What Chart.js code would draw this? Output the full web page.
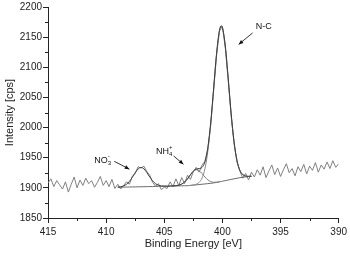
<!DOCTYPE html>
<html>
<head>
<meta charset="utf-8">
<script src="https://cdn.jsdelivr.net/npm/chart.js@4.4.1/dist/chart.umd.min.js"></script>
<style>
  html, body { margin: 0; padding: 0; background: #fff; }
  canvas { display: block; }
</style>
</head>
<body>
<canvas id="xps" width="350" height="257"></canvas>
<script>
// measured spectrum, binding energy [eV] -> intensity [cps]
const rawEnergy = [
  415, 414.75, 414.5, 414.25, 414, 413.75, 413.5, 413.25, 413, 412.75,
  412.5, 412.25, 412, 411.75, 411.5, 411.25, 411, 410.75, 410.5, 410.25,
  410, 409.75, 409.5, 409.25, 409, 408.75, 408.5, 408.25, 408, 407.75,
  407.5, 407.25, 407, 406.75, 406.5, 406.25, 406, 405.75, 405.5, 405.25,
  405, 404.75, 404.5, 404.25, 404, 403.75, 403.5, 403.25, 403, 402.75,
  402.5, 402.25, 402, 401.75, 401.5, 401.25, 401, 400.75, 400.5, 400.25,
  400, 399.75, 399.5, 399.25, 399, 398.75, 398.5, 398.25, 398, 397.75,
  397.5, 397.25, 397, 396.75, 396.5, 396.25, 396, 395.75, 395.5, 395.25,
  395, 394.75, 394.5, 394.25, 394, 393.75, 393.5, 393.25, 393, 392.75,
  392.5, 392.25, 392, 391.75, 391.5, 391.25, 391, 390.75, 390.5, 390.25, 390
];
const rawCounts = [
  1908, 1915, 1902, 1912, 1905, 1898, 1910, 1893, 1906, 1918,
  1900, 1913, 1904, 1916, 1907, 1912, 1901, 1909, 1919, 1904,
  1912, 1902, 1914, 1899, 1906, 1898, 1904, 1910, 1906, 1919,
  1924, 1935, 1933, 1936, 1927, 1921, 1909, 1903, 1907, 1897,
  1901, 1899, 1910, 1902, 1915, 1904, 1917, 1907, 1921, 1914,
  1927, 1934, 1926, 1938, 1944, 1965, 2005, 2062, 2120, 2160,
  2168, 2132, 2078, 2020, 1974, 1943, 1928, 1916, 1924, 1913,
  1926, 1918, 1930, 1921, 1935, 1917, 1928, 1938, 1922, 1933,
  1919, 1930, 1940, 1925, 1932, 1920, 1935, 1927, 1939, 1923,
  1936, 1929, 1942, 1926, 1938, 1931, 1943, 1932, 1945, 1934, 1940
];

// fit: envelope and background
const fitEnergy = [
  409, 408.75, 408.5, 408.25, 408, 407.75, 407.5, 407.25, 407, 406.75,
  406.5, 406.25, 406, 405.75, 405.5, 405.25, 405, 404.75, 404.5, 404.25,
  404, 403.75, 403.5, 403.25, 403, 402.75, 402.5, 402.25, 402, 401.75,
  401.5, 401.25, 401, 400.75, 400.5, 400.25, 400.1, 400, 399.75, 399.5,
  399.25, 399, 398.75, 398.5, 398.25, 398, 397.75, 397.5
];
const envelope = [
  1901.2, 1901.8, 1903.2, 1905.9, 1910.7, 1917.5, 1925.1, 1931.3, 1933.8, 1931.5,
  1925.5, 1918.1, 1911.5, 1906.9, 1904.4, 1903.2, 1902.9, 1902.8, 1903.0, 1903.2,
  1903.6, 1904.4, 1906.3, 1909.7, 1915.0, 1921.8, 1927.7, 1931.1, 1932.0, 1934.0,
  1943.3, 1967.1, 2009.4, 2065.8, 2122.9, 2161.2, 2168.6, 2166.0, 2135.2, 2081.5,
  2023.7, 1976.7, 1945.8, 1929.3, 1922.0, 1919.6, 1919.1, 1919.3
];
const background = [
  1901.0, 1901.1, 1901.2, 1901.3, 1901.4, 1901.5, 1901.6, 1901.7, 1901.8, 1901.9,
  1902.0, 1902.1, 1902.2, 1902.3, 1902.4, 1902.5, 1902.7, 1902.8, 1903.0, 1903.1,
  1903.2, 1903.3, 1903.4, 1903.5, 1903.6, 1904.0, 1904.5, 1905.0, 1905.5, 1906.0,
  1906.5, 1907.0, 1907.5, 1908.2, 1909.0, 1910.0, 1910.6, 1911.0, 1912.0, 1913.0,
  1914.0, 1915.0, 1915.9, 1916.8, 1917.5, 1918.2, 1918.7, 1919.2
];

// component N-C
const ncEnergy = [
  403, 402.75, 402.5, 402.25, 402, 401.75, 401.5, 401.25, 401, 400.75,
  400.5, 400.25, 400.1, 400, 399.75, 399.5, 399.25, 399, 398.75, 398.5,
  398.25, 398, 397.75, 397.5
];
const ncCounts = [
  1903.6, 1904.1, 1904.8, 1906.1, 1909.1, 1916.3, 1931.9, 1960.9, 2006.5, 2064.7,
  2122.5, 2161.2, 2168.6, 2166.0, 2135.2, 2081.5, 2023.7, 1976.7, 1945.8, 1929.3,
  1922.0, 1919.6, 1919.1, 1919.3
];

// component NH4+
const nhEnergy = [
  404.25, 404, 403.75, 403.5, 403.25, 403, 402.75, 402.5, 402.25, 402,
  401.75, 401.5, 401.25, 401, 400.75, 400.5, 400.25
];
const nhCounts = [
  1903.2, 1903.6, 1904.4, 1906.3, 1909.7, 1915.0, 1921.7, 1927.4, 1930.0, 1928.4,
  1923.7, 1917.9, 1913.2, 1910.4, 1909.3, 1909.4, 1910.0
];

// peak labels: [text, sub, sup, label eV, label cps, arrow from eV, cps, arrow to eV, cps]
const peakLabels = [
  ["N-C", "", "", 396.45, 2168, 397.4, 2157, 398.6, 2138],
  ["NO", "3", "-", 410.3, 1946, 409.3, 1944, 408.0, 1931],
  ["NH", "4", "+", 405.0, 1961, 404.2, 1953, 403.35, 1939]
];

const xTicks = [415, 410, 405, 400, 395, 390];
const yTicks = [1850, 1900, 1950, 2000, 2050, 2100, 2150, 2200];

const pts = (xs, ys) => xs.map((x, i) => ({ x: x, y: ys[i] }));
const FONT = "'Liberation Sans', Arial, sans-serif";

// shorter minor ticks between majors
const minorTicks = {
  id: "minorTicks",
  afterDraw(chart) {
    const { ctx, scales: { x, y } } = chart;
    ctx.save();
    ctx.strokeStyle = "#222";
    ctx.lineWidth = 1;
    ctx.beginPath();
    for (let i = 0; i < xTicks.length - 1; i++) {
      const px = Math.round(x.getPixelForValue((xTicks[i] + xTicks[i + 1]) / 2)) + 0.5;
      ctx.moveTo(px, y.bottom);
      ctx.lineTo(px, y.bottom + 3);
    }
    for (let i = 0; i < yTicks.length - 1; i++) {
      const py = Math.round(y.getPixelForValue((yTicks[i] + yTicks[i + 1]) / 2)) + 0.5;
      ctx.moveTo(x.left, py);
      ctx.lineTo(x.left - 3, py);
    }
    ctx.stroke();
    ctx.restore();
  }
};

// text labels with arrows
const peakNotes = {
  id: "peakNotes",
  afterDatasetsDraw(chart) {
    const { ctx, scales: { x, y } } = chart;
    ctx.save();
    ctx.fillStyle = "#111";
    ctx.strokeStyle = "#333";
    ctx.lineWidth = 1;
    peakLabels.forEach(p => {
      const [txt, sub, sup, le, lc, ae, ac, be, bc] = p;
      ctx.font = "9px " + FONT;
      const w0 = ctx.measureText(txt).width;
      ctx.font = "6px " + FONT;
      const w1 = Math.max(ctx.measureText(sub).width, ctx.measureText(sup).width);
      const lx = x.getPixelForValue(le) - (w0 + w1) / 2;
      const ly = y.getPixelForValue(lc);
      ctx.textBaseline = "middle";
      ctx.textAlign = "left";
      ctx.font = "9px " + FONT;
      ctx.fillText(txt, lx, ly);
      ctx.font = "6px " + FONT;
      if (sub) ctx.fillText(sub, lx + w0, ly + 3);
      if (sup) ctx.fillText(sup, lx + w0, ly - 4);

      const x1 = x.getPixelForValue(ae), y1 = y.getPixelForValue(ac);
      const x2 = x.getPixelForValue(be), y2 = y.getPixelForValue(bc);
      ctx.beginPath();
      ctx.moveTo(x1, y1);
      ctx.lineTo(x2, y2);
      ctx.stroke();
      const a = Math.atan2(y2 - y1, x2 - x1);
      ctx.beginPath();
      ctx.moveTo(x2, y2);
      ctx.lineTo(x2 - 5 * Math.cos(a - 0.4), y2 - 5 * Math.sin(a - 0.4));
      ctx.lineTo(x2 - 5 * Math.cos(a + 0.4), y2 - 5 * Math.sin(a + 0.4));
      ctx.closePath();
      ctx.fill();
    });
    ctx.restore();
  }
};

const line = (data, color, width, order, tension) => ({
  data: data,
  borderColor: color,
  borderWidth: width,
  pointRadius: 0,
  fill: false,
  tension: tension,
  cubicInterpolationMode: tension ? "monotone" : "default",
  order: order
});

new Chart(document.getElementById("xps"), {
  type: "line",
  data: {
    datasets: [
      line(pts(rawEnergy, rawCounts), "#808080", 1, 5, 0),
      line(pts(fitEnergy, background), "#6a6a6a", 1, 4, 0.4),
      line(pts(nhEnergy, nhCounts), "#7a7a7a", 1, 3, 0.4),
      line(pts(ncEnergy, ncCounts), "#8a8a8a", 1, 2, 0.4),
      line(pts(fitEnergy, envelope), "#3c3c3c", 1, 1, 0.4)
    ]
  },
  options: {
    responsive: false,
    animation: false,
    events: [],
    layout: { padding: { top: 6, right: 0, left: 0, bottom: 0 } },
    plugins: { legend: { display: false }, tooltip: { enabled: false } },
    scales: {
      x: {
        type: "linear",
        reverse: true,
        min: 390,
        max: 415,
        afterBuildTicks: s => { s.ticks = xTicks.map(v => ({ value: v })); },
        afterFit: s => { s.height = 39; },
        border: { color: "#222", width: 1 },
        grid: { drawOnChartArea: false, drawTicks: true, tickLength: 5, color: "#222" },
        ticks: {
          color: "#222", font: { family: FONT, size: 10 }, padding: 3,
          maxRotation: 0, autoSkip: false, callback: v => String(v)
        },
        title: {
          display: true,
          text: "Binding Energy [eV]",
          color: "#222",
          font: { family: FONT, size: 11 },
          padding: { top: 0, bottom: 6 }
        }
      },
      y: {
        type: "linear",
        min: 1850,
        max: 2200,
        afterBuildTicks: s => { s.ticks = yTicks.map(v => ({ value: v })); },
        afterFit: s => { s.width = 48; },
        border: { color: "#222", width: 1 },
        grid: { drawOnChartArea: false, drawTicks: true, tickLength: 5, color: "#222" },
        ticks: {
          color: "#222", font: { family: FONT, size: 10 }, padding: 1,
          autoSkip: false, callback: v => String(v)
        },
        title: {
          display: true,
          text: "Intensity [cps]",
          color: "#222",
          font: { family: FONT, size: 11 },
          padding: { top: 3, bottom: 0 }
        }
      }
    }
  },
  plugins: [minorTicks, peakNotes]
});
</script>
</body>
</html>
